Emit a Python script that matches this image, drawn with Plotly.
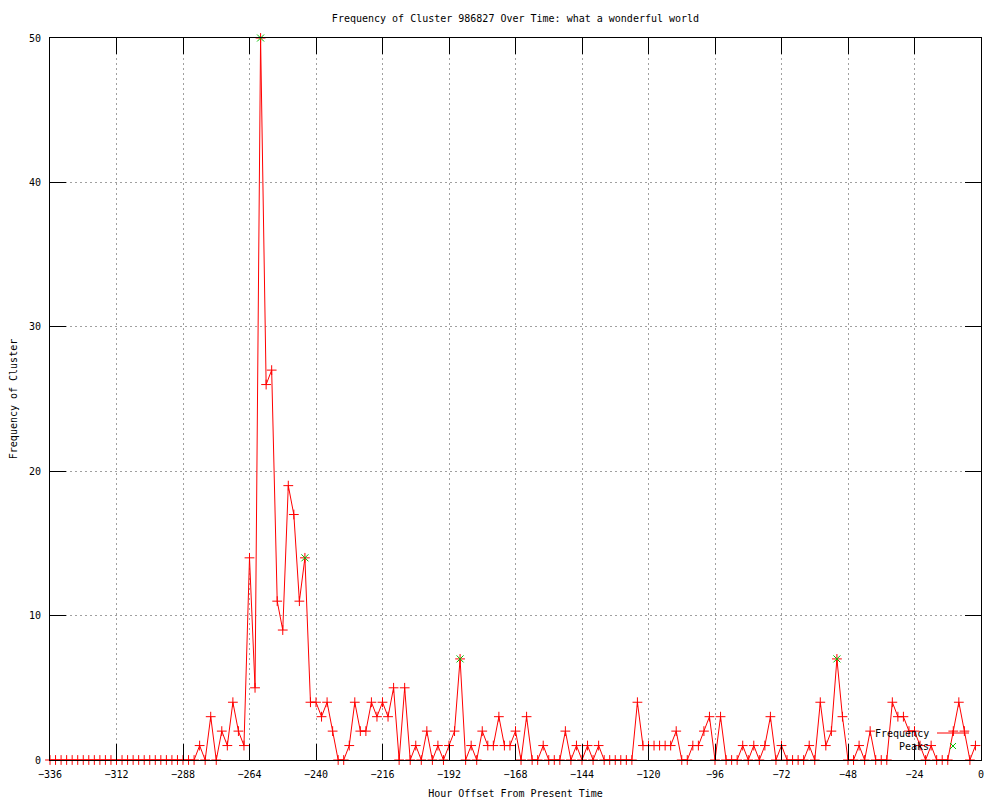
import plotly.graph_objects as go

# ---- data ----
hours = list(range(-336, 0, 2))  # 168 samples, every 2 hours
frequency = [
    0, 0, 0, 0, 0, 0, 0, 0, 0, 0, 0, 0, 0, 0, 0, 0, 0, 0, 0, 0, 0, 0, 0, 0, 0, 0, 0,
    1, 0, 3, 0, 2, 1, 4, 2, 1, 14, 5, 50, 26, 27, 11, 9, 19, 17, 11, 14,
    4, 4, 3, 4, 2, 0, 0, 1, 4, 2, 2, 4, 3, 4, 3, 5, 0, 5, 0, 1, 0, 2, 0, 1, 0, 1, 2, 7,
    0, 1, 0, 2, 1, 1, 3, 1, 1, 2, 0, 3, 0, 0, 1, 0, 0, 0, 2, 0, 1, 0, 1, 0, 1,
    0, 0, 0, 0, 0, 0, 4, 1, 1, 1, 1, 1, 1, 2, 0, 0, 1, 1, 2, 3, 0, 3,
    0, 0, 0, 1, 0, 1, 0, 1, 3, 0, 1, 0, 0, 0, 0, 1, 0, 4, 1, 2, 7, 3,
    0, 0, 1, 0, 2, 0, 0, 0, 4, 3, 3, 2, 2, 1, 0, 1, 0, 0, 0, 2, 4, 2, 0, 1,
]
peak_hours = [-260, -244, -188, -52]
peak_values = [50, 14, 7, 7]

x_ticks = list(range(-336, 1, 24))
y_ticks = [0, 10, 20, 30, 40, 50]

title_text = "Frequency of Cluster 986827 Over Time: what a wonderful world"
x_title = "Hour Offset From Present Time"
y_title = "Frequency of Cluster"

RED = "#ff0000"
GREEN = "#00c000"
FONT = "DejaVu Sans Mono"

# plot area in pixels
L, R, T, B = 50, 981, 38, 760
W, H = 1000, 800


def px(xp):
    return (xp - L) / (R - L)


def py(yp):
    return (B - yp) / (B - T)


fig = go.Figure()
fig.add_trace(go.Scatter(
    x=hours, y=frequency, mode="lines+markers", name="Frequency",
    line=dict(color=RED, width=1),
    marker=dict(symbol="cross-thin", size=7, color=RED, line=dict(color=RED, width=1)),
    cliponaxis=False,
))
fig.add_trace(go.Scatter(
    x=peak_hours, y=peak_values, mode="markers", name="Peaks",
    marker=dict(symbol="x-thin", size=7, color=GREEN, line=dict(color=GREEN, width=1)),
    cliponaxis=False,
))

axis_common = dict(
    showline=True, linecolor="black", linewidth=1, mirror="allticks",
    ticks="inside", ticklen=16, tickwidth=1, tickcolor="black",
    showgrid=True, gridcolor="#a0a0a0", gridwidth=1, griddash="2px,3px",
    zeroline=False, automargin=False,
    tickfont=dict(family=FONT, size=10, color="black"),
)

fig.update_xaxes(
    range=[-336, 0], tickmode="array", tickvals=x_ticks,
    ticklabelstandoff=5,
    title=dict(text=x_title, font=dict(family=FONT, size=10, color="black"), standoff=10),
    **axis_common,
)
fig.update_yaxes(
    range=[0, 50], tickmode="array", tickvals=y_ticks,
    ticklabelstandoff=6,
    title=dict(text=y_title, font=dict(family=FONT, size=10, color="black"), standoff=9),
    **axis_common,
)

# gnuplot-style key: text right-aligned, sample on the right
legend_shapes = [
    dict(type="line", xref="paper", yref="paper", x0=px(937), x1=px(969), y0=py(733), y1=py(733),
         line=dict(color=RED, width=1)),
    dict(type="line", xref="paper", yref="paper", x0=px(953), x1=px(953), y0=py(730), y1=py(736),
         line=dict(color=RED, width=1)),
    dict(type="line", xref="paper", yref="paper", x0=px(950), x1=px(956), y0=py(743), y1=py(749),
         line=dict(color=GREEN, width=1)),
    dict(type="line", xref="paper", yref="paper", x0=px(950), x1=px(956), y0=py(749), y1=py(743),
         line=dict(color=GREEN, width=1)),
]

annotations = [
    dict(text="Frequency", xref="paper", yref="paper", x=px(931), y=py(733),
         xanchor="right", yanchor="middle", showarrow=False,
         font=dict(family=FONT, size=10, color="black")),
    dict(text="Peaks", xref="paper", yref="paper", x=px(931), y=py(746),
         xanchor="right", yanchor="middle", showarrow=False,
         font=dict(family=FONT, size=10, color="black")),
]

fig.update_layout(
    width=W, height=H,
    margin=dict(l=L, r=W - R, t=T, b=H - B, pad=0, autoexpand=False),
    paper_bgcolor="white", plot_bgcolor="white",
    font=dict(family=FONT, size=10, color="black"),
    showlegend=False,
    hovermode=False,
    title=dict(text=title_text, x=0.5, xref="paper", xanchor="center",
               y=1 - 18 / H, yref="container", yanchor="middle",
               font=dict(family=FONT, size=10, color="black")),
    shapes=legend_shapes,
    annotations=annotations,
)

fig.write_html("out.html", config={"displayModeBar": False},
               post_script="document.body.style.margin='0';")
